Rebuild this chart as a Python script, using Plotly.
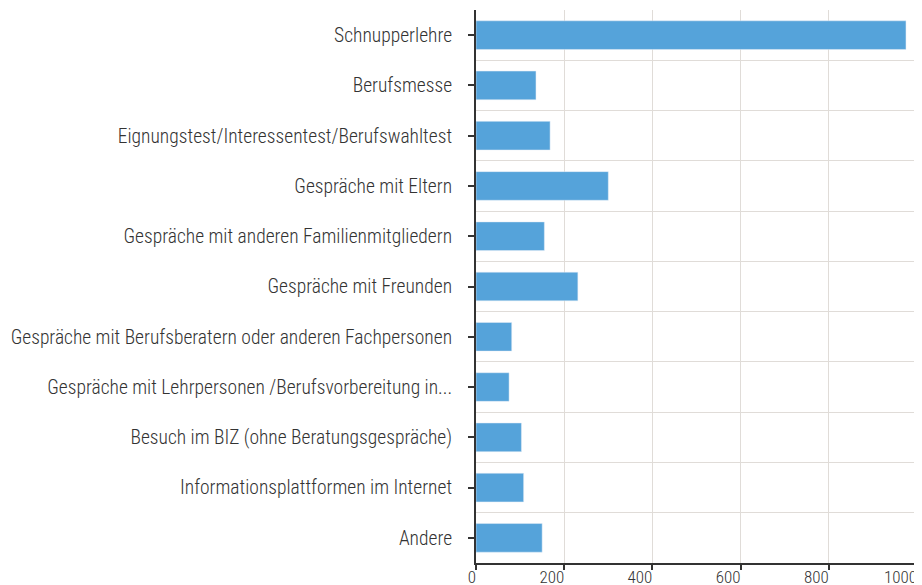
import plotly.graph_objects as go

categories = [
    "Schnupperlehre",
    "Berufsmesse",
    "Eignungstest/Interessentest/Berufswahltest",
    "Gespräche mit Eltern",
    "Gespräche mit anderen Familienmitgliedern",
    "Gespräche mit Freunden",
    "Gespräche mit Berufsberatern oder anderen Fachpersonen",
    "Gespräche mit Lehrpersonen /Berufsvorbereitung in...",
    "Besuch im BIZ (ohne Beratungsgespräche)",
    "Informationsplattformen im Internet",
    "Andere",
]
values = [975, 136, 168, 300, 155, 231, 81, 75, 103, 108, 150]
x_ticks = [0, 200, 400, 600, 800, 1000]

FONT = "Roboto Condensed, Arial Narrow, sans-serif"

# tick labels sit right-aligned to their tick in the reference:
# pad each label with an invisible copy on its right so the visible part ends at the tick
x_ticktext = [f"{v}<span style='color:rgba(255,255,255,0)'>{v}</span>" for v in x_ticks]

fig = go.Figure()
fig.add_trace(go.Bar(
    x=values, y=categories, orientation="h",
    marker=dict(color="#55a3da", line=dict(width=0)),
    hoverinfo="x+y",
))
fig.add_trace(go.Bar(
    x=values, y=categories, orientation="h", yaxis="y2",
    marker=dict(color="rgba(0,0,0,0)"), hoverinfo="skip",
))

# page body has an 8px default margin, so the figure is offset by 8px
fig.update_layout(
    width=914, height=577,
    margin=dict(l=468, r=5, t=2, b=22),
    paper_bgcolor="white", plot_bgcolor="white",
    bargap=0.43,
    showlegend=False,
    font=dict(family=FONT, size=19.5, color="#333333", weight=300),
    xaxis=dict(
        range=[0, 1000], tickvals=x_ticks, ticktext=x_ticktext,
        showgrid=True, gridcolor="#e0dcd8", gridwidth=1,
        showline=True, linecolor="#333333", linewidth=2,
        ticks="outside", ticklen=5, tickcolor="#333333", tickwidth=2,
        ticklabelstandoff=-7, ticklabeloverflow="allow",
        tickfont=dict(family=FONT, size=17, color="#333333"),
        zeroline=False, fixedrange=True, automargin=False,
    ),
    yaxis=dict(
        type="category", categoryorder="array", categoryarray=categories,
        autorange="reversed",
        showgrid=False,
        showline=True, linecolor="#333333", linewidth=2,
        ticks="outside", ticklen=6, tickcolor="#333333", tickwidth=2,
        ticklabelstandoff=12,
        tickfont=dict(family=FONT, size=19.5, color="#333333", weight=300),
        fixedrange=True, automargin=False,
    ),
    yaxis2=dict(
        type="category", categoryorder="array", categoryarray=categories,
        matches="y", overlaying="y", side="left",
        showgrid=True, gridcolor="#e0dcd8", gridwidth=1,
        tickson="boundaries", ticks="", showticklabels=False,
        showline=False, fixedrange=True, automargin=False,
    ),
)

fig.write_html("out.html")
